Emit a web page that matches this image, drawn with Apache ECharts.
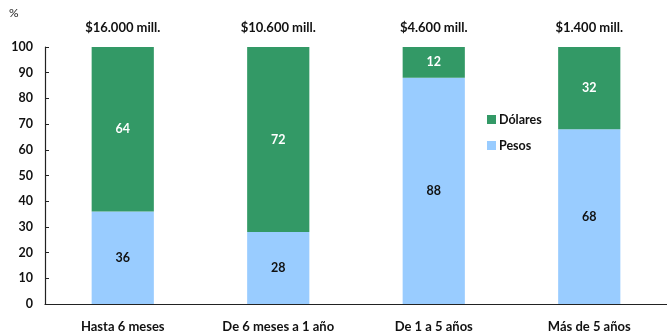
<!DOCTYPE html>
<html>
<head>
<meta charset="utf-8">
<script src="https://cdn.jsdelivr.net/npm/echarts@6/dist/echarts.min.js"></script>
<style>
  html, body { margin: 0; padding: 0; background: #fff; }
  #chart { width: 667px; height: 334px; }
</style>
</head>
<body>
<div id="chart"></div>
<script>
// Plazos de depósitos y su composición por moneda
const categories = ['Hasta 6 meses', 'De 6 meses a 1 año', 'De 1 a 5 años', 'Más de 5 años'];
const totals = ['$16.000 mill.', '$10.600 mill.', '$4.600 mill.', '$1.400 mill.'];
const pesos = [36, 28, 88, 68];
const dolares = [64, 72, 12, 32];
const yTicks = [0, 10, 20, 30, 40, 50, 60, 70, 80, 90, 100];

const FONT = 'Lato, "Open Sans", sans-serif';
const chart = echarts.init(document.getElementById('chart'), null, { renderer: 'canvas' });

chart.setOption({
  animation: false,
  backgroundColor: '#ffffff',
  textStyle: { fontFamily: FONT },
  title: {
    text: '%',
    left: 4,
    top: 2,
    textStyle: { fontFamily: FONT, fontSize: 12, fontWeight: 'normal', color: '#222' }
  },
  legend: {
    orient: 'vertical',
    left: 482,
    top: 108,
    itemWidth: 9,
    itemHeight: 9,
    itemGap: 13,
    icon: 'rect',
    data: ['Dólares', 'Pesos'],
    textStyle: { fontFamily: FONT, fontSize: 12.5, fontWeight: 'bold', color: '#111', padding: [0, 0, 0, -2] }
  },
  grid: { left: 45, right: -5, top: 47, bottom: 30 },
  xAxis: [
    {
      type: 'category',
      data: categories,
      axisLine: { lineStyle: { color: '#222', width: 1.2 } },
      axisTick: { show: false },
      axisLabel: { fontFamily: FONT, fontSize: 13, fontWeight: 'bold', color: '#111', margin: 16 }
    },
    {
      type: 'category',
      position: 'top',
      data: totals,
      axisLine: { show: false },
      axisTick: { show: false },
      axisLabel: { fontFamily: FONT, fontSize: 13, fontWeight: 'bold', color: '#111', margin: 13 }
    }
  ],
  yAxis: {
    type: 'value',
    min: 0,
    max: 100,
    interval: 10,
    axisLine: { show: true, lineStyle: { color: '#222', width: 1.2 } },
    axisTick: { show: true, inside: true, length: 4, lineStyle: { color: '#222' } },
    splitLine: { show: false },
    axisLabel: {
      fontFamily: FONT, fontSize: 12.5, fontWeight: 'bold', color: '#111', margin: 12,
      formatter: v => (yTicks.includes(v) ? String(v) : '')
    }
  },
  series: [
    {
      name: 'Pesos',
      type: 'bar',
      stack: 'moneda',
      data: pesos,
      barWidth: '40%',
      itemStyle: { color: '#99ccff' },
      label: {
        show: true, position: 'inside',
        fontFamily: FONT, fontSize: 12.5, fontWeight: 'bold', color: '#111'
      }
    },
    {
      name: 'Dólares',
      type: 'bar',
      stack: 'moneda',
      data: dolares,
      barWidth: '40%',
      itemStyle: { color: '#339966' },
      label: {
        show: true, position: 'inside',
        fontFamily: FONT, fontSize: 12.5, fontWeight: 'bold', color: '#ffffff'
      }
    }
  ]
});
</script>
</body>
</html>
